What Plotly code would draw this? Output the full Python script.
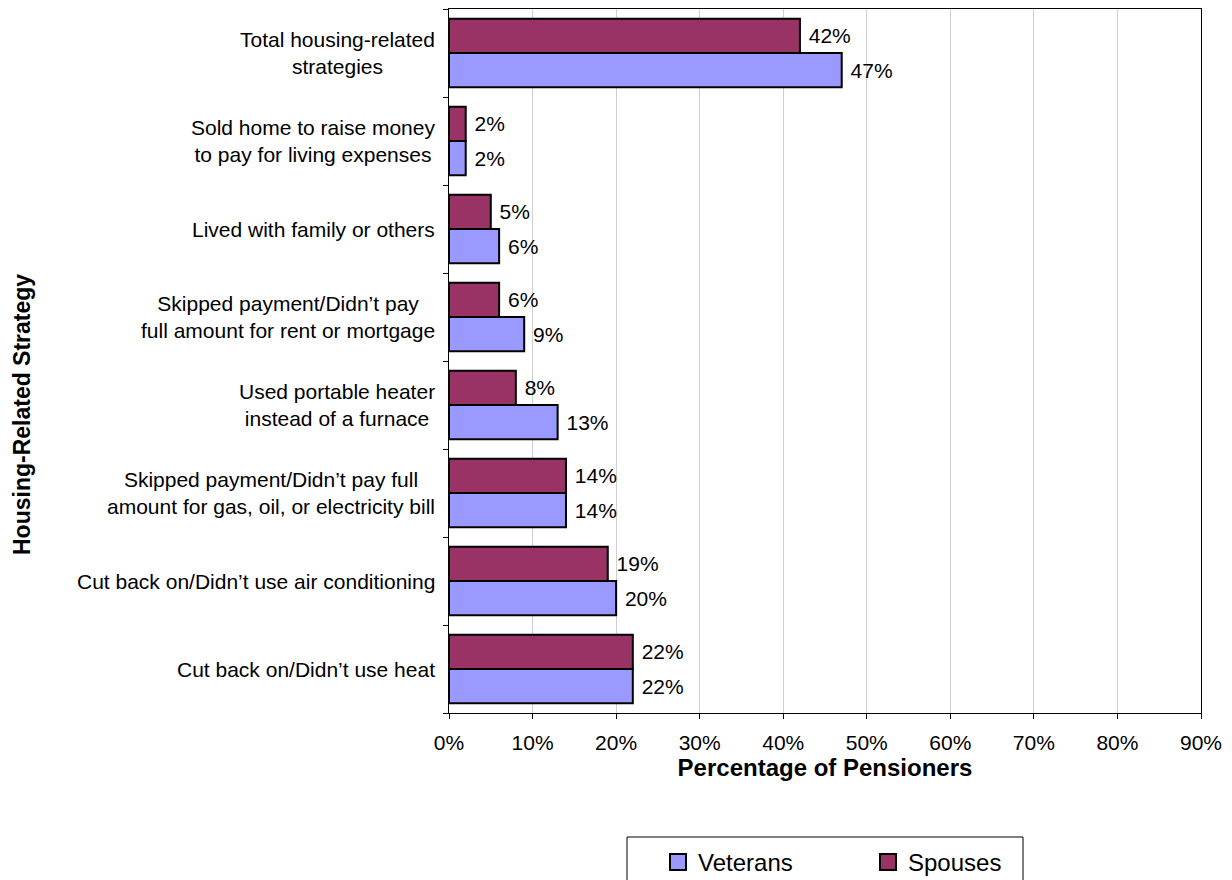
import plotly.graph_objects as go

categories = [
    "Total housing-related<br>strategies",
    "Sold home to raise money<br>to pay for living expenses",
    "Lived with family or others",
    "Skipped payment/Didn\u2019t pay<br>full amount for rent or mortgage",
    "Used portable heater<br>instead of a furnace",
    "Skipped payment/Didn\u2019t pay full<br>amount for gas, oil, or electricity bill",
    "Cut back on/Didn\u2019t use air conditioning",
    "Cut back on/Didn\u2019t use heat",
]
spouses = [42, 2, 5, 6, 8, 14, 19, 22]
veterans = [47, 2, 6, 9, 13, 14, 20, 22]
x_ticks = [0, 10, 20, 30, 40, 50, 60, 70, 80, 90]

VET_COLOR = "#9999FF"
SPO_COLOR = "#993366"
FONT = "Liberation Sans, Arial, sans-serif"
FS = 21
FS_BIG = 24

fig = go.Figure()
fig.add_trace(go.Bar(
    name="Veterans", y=categories, x=veterans, orientation="h", showlegend=False,
    marker=dict(color=VET_COLOR, line=dict(color="black", width=2)),
    text=[f"\u00a0{v}%" for v in veterans], textposition="outside",
    textfont=dict(size=FS, color="black", family=FONT), cliponaxis=False,
))
fig.add_trace(go.Bar(
    name="Spouses", y=categories, x=spouses, orientation="h", showlegend=False,
    marker=dict(color=SPO_COLOR, line=dict(color="black", width=2)),
    text=[f"\u00a0{v}%" for v in spouses], textposition="outside",
    textfont=dict(size=FS, color="black", family=FONT), cliponaxis=False,
))
# legend entries with larger square swatches
for name, col in [("Veterans", VET_COLOR), ("Spouses", SPO_COLOR)]:
    fig.add_trace(go.Scatter(
        name=name, x=[None], y=[None], mode="markers", showlegend=True,
        marker=dict(symbol="square", size=16, color=col, line=dict(color="black", width=2)),
    ))

for c in categories:
    fig.add_annotation(x=0, xref="paper", y=c, yref="y", text=c, showarrow=False,
                       xanchor="right", yanchor="middle", align="center", xshift=-12,
                       font=dict(size=FS, family=FONT, color="black"))

fig.add_annotation(x=-(449 - 22) / 752, xref="paper", y=(713 - 415) / 704, yref="paper",
                   xanchor="center", yanchor="middle",
                   text="<b>Housing-Related Strategy</b>", showarrow=False,
                   textangle=-90, font=dict(size=23, family=FONT, color="black"))

# legend frame
fig.add_shape(type="rect", xref="paper", yref="paper",
              x0=(627 - 449) / 752, x1=(1023 - 449) / 752,
              y0=(713 - 900) / 704, y1=(713 - 837) / 704,
              line=dict(color="black", width=1), fillcolor="rgba(0,0,0,0)")

fig.update_layout(
    width=1232, height=880,
    margin=dict(l=449, r=31, t=9, b=167, autoexpand=False),
    paper_bgcolor="white", plot_bgcolor="white",
    barmode="group", bargap=0.22, bargroupgap=0,
    font=dict(family=FONT, size=FS, color="black"),
    showlegend=True,
    legend=dict(orientation="h", x=(658 - 449) / 752, xanchor="left",
                y=(713 - 840) / 704, yanchor="top",
                borderwidth=0, bgcolor="rgba(0,0,0,0)",
                entrywidth=165, entrywidthmode="pixels",
                font=dict(size=FS_BIG, family=FONT), traceorder="normal"),
    xaxis=dict(range=[0, 90], tickvals=x_ticks, ticktext=[f"{t}%" for t in x_ticks],
               showgrid=True, gridcolor="#d0d0d0", gridwidth=1,
               showline=True, linecolor="black", linewidth=1, mirror=True,
               ticks="outside", ticklen=5, tickcolor="black", zeroline=False,
               ticklabelstandoff=6, automargin=False,
               title=dict(text="<b>Percentage of Pensioners</b>", standoff=4,
                          font=dict(size=FS_BIG, family=FONT))),
    yaxis=dict(type="category", categoryorder="array", categoryarray=categories[::-1],
               showticklabels=False, tickson="boundaries", ticks="outside", ticklen=5,
               tickcolor="black", showline=True, linecolor="black", linewidth=1,
               mirror=True, showgrid=False, automargin=False),
)

fig.write_html("out.html")
